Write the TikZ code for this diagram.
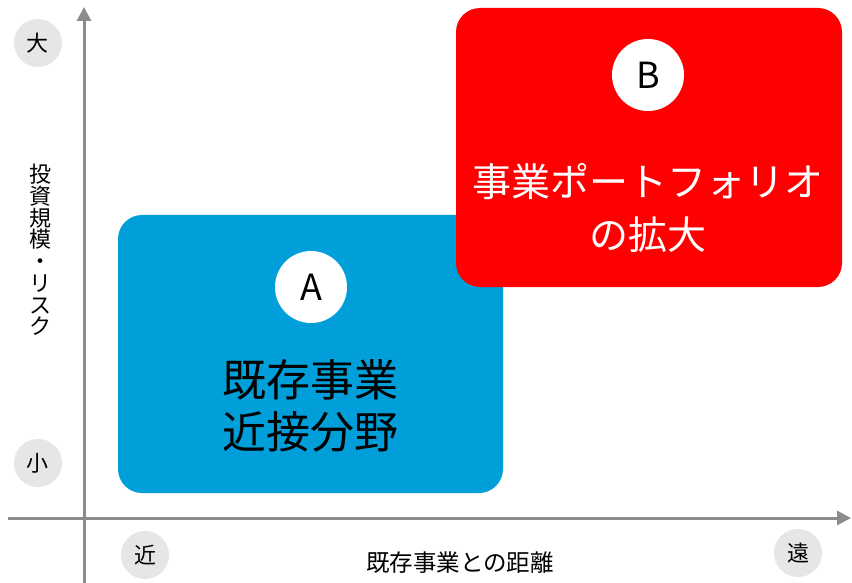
\documentclass[tikz,border=0pt]{standalone}
\usepackage{fontspec}
\setmainfont{Noto Sans CJK JP}
\usetikzlibrary{arrows.meta}
\definecolor{axisgray}{HTML}{8C8C8C}
\definecolor{tickgray}{HTML}{E6E6E6}
\definecolor{boxblue}{HTML}{009FD9}
\definecolor{boxred}{HTML}{FF0000}
\begin{document}
\begin{tikzpicture}[x=1pt,y=-1pt,
  axis/.style={draw=axisgray,line width=3pt,-{Triangle[length=14pt,width=14pt]}},
  tickmark/.style={circle,fill=tickgray,minimum size=48pt,inner sep=0pt,font=\fontsize{22}{22}\selectfont},
  zone/.style={rectangle,rounded corners=24pt,inner sep=0pt},
  badge/.style={circle,fill=white,minimum size=72pt,inner sep=0pt,font=\fontsize{36}{36}\selectfont},
  axlabel/.style={font=\fontsize{22}{22}\selectfont,inner sep=0pt}
]
\useasboundingbox (0,0) rectangle (852,583);
\fill[white] (0,0) rectangle (852,583);
% zones
\node[zone,fill=boxblue,minimum width=385pt,minimum height=278pt] (zoneA) at (310.5,354) {};
\node[zone,fill=boxred,minimum width=386pt,minimum height=279pt] (zoneB) at (649,147.5) {};
\node[badge] (badgeA) at (311,287) {A};
\node[badge] (badgeB) at (648,75) {B};
\node[align=center,font=\fontsize{44}{52}\selectfont,text=black] (textA) at (310,406) {既存事業\\近接分野};
\node[align=center,font=\fontsize{39}{53}\selectfont,text=white] (textB) at (648,208) {事業ポートフォリオ\\の拡大};
% axes
\coordinate (ybot) at (84,583);
\coordinate (ytop) at (84,7);
\coordinate (xleft) at (8,518);
\coordinate (xright) at (851,518);
\draw[axis] (ybot) -- (ytop);
\draw[axis] (xleft) -- (xright);
% tick circles
\node[tickmark] (big) at (38,43) {大};
\node[tickmark] (small) at (38,463) {小};
\node[tickmark] (near) at (145,555) {近};
\node[tickmark] (far) at (798,553) {遠};
% axis labels
\node[axlabel,align=center,font=\fontsize{22}{21.7}\selectfont] (ylab) at (40,250) {投\\資\\規\\模\\・\\リ\\ス\\ク};
\node[axlabel,font=\fontsize{23.5}{23.5}\selectfont] (xlab) at (460,563) {既存事業との距離};
\end{tikzpicture}
\end{document}
